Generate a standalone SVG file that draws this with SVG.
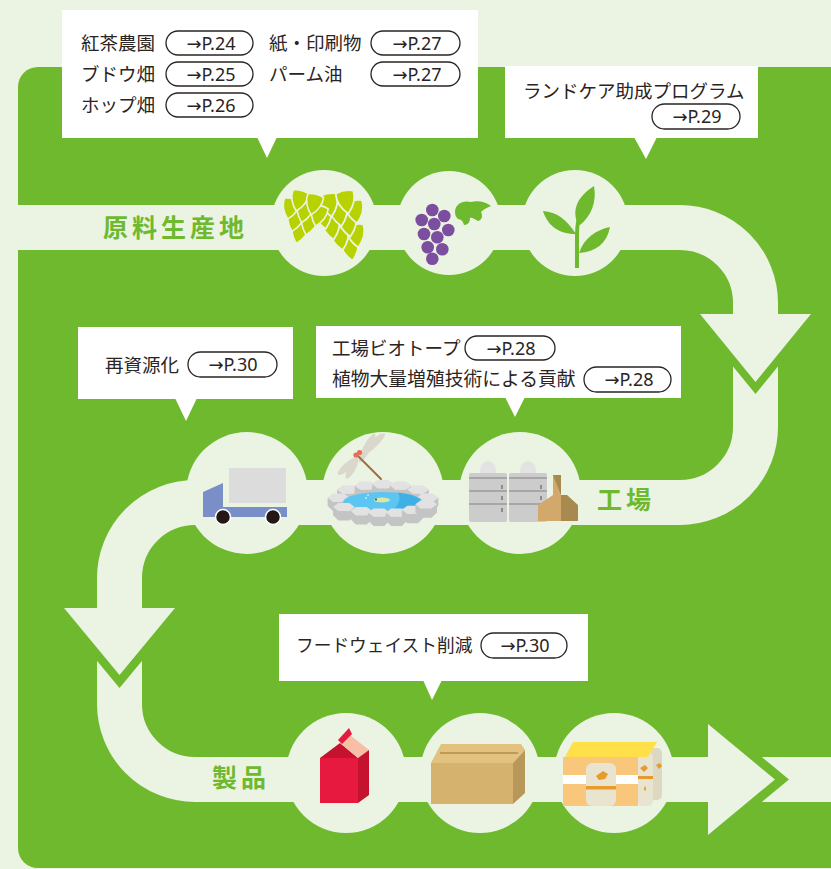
<svg xmlns="http://www.w3.org/2000/svg" width="831" height="869" viewBox="0 0 831 869">
<style>
.bg{fill:#EBF3E3}
.lt{fill:#EBF3E3}
.gr{fill:#6EB92D}
.band{fill:none;stroke:#EBF3E3;stroke-width:45}
.co{fill:#fff}
.t{font-family:"Noto Sans CJK JP","Noto Sans",sans-serif;font-size:18.5px;fill:#2a2422}
.pill{fill:#fff;stroke:#2a2422;stroke-width:1.3}
.pt{font-family:"Noto Sans","Open Sans",sans-serif;font-size:18px;fill:#2a2422;text-anchor:middle}
.ar{font-family:"DejaVu Sans",sans-serif;font-size:18px}
.lab{font-family:"Noto Sans CJK JP",sans-serif;font-weight:700;font-size:25px;fill:#6EB92D;letter-spacing:4px}
.hop{fill:#B7D200;stroke:#EBF3E3;stroke-width:1.8;stroke-linejoin:round}
.grape{fill:#7C4E9F}
.stone-top{fill:#E2E2E2}
.stone-side{fill:#C4C4C4}
</style>
<defs>
  <path id="bract" d="M-9,-9 C-3,-11 3,-11 9,-9 C10,0 6,7 0,13 C-6,7 -10,0 -9,-9 Z"/>
  <g id="stone">
    <polygon class="stone-side" points="-8,-3 -4,0 4,0 8,-3 8,3 4,7 -4,7 -8,3"/>
    <polygon class="stone-top" points="-8,-3 -4,-6 4,-6 8,-3 4,0 -4,0"/>
  </g>
</defs>

<!-- page and green field -->
<rect class="bg" x="0" y="0" width="831" height="869"/>
<rect class="gr" x="18" y="67" width="840" height="801" rx="20"/>

<!-- flow band with arrowheads -->
<g id="connectors">
  <path class="band" d="M0,227.5 H680 A75.5,75.5 0 0 1 755.5,303 V427 A75.5,75.5 0 0 1 680,502.5 H195 A75.5,75.5 0 0 0 119.5,578 V704 A75.5,75.5 0 0 0 195,779.5 H831"/>
  <polygon class="gr" points="700,326 811,326 755.5,394"/>
  <polygon class="lt" points="700,314 811,314 755.5,382"/>
  <polygon class="gr" points="64,621 175,621 119.5,688"/>
  <polygon class="lt" points="64,608 175,608 119.5,675"/>
  <polygon class="gr" points="722,724 722,835 789,779.5"/>
  <polygon class="lt" points="708,724 708,835 775,779.5"/>
</g>

<!-- stage labels -->
<text class="lab" x="103" y="237">原料生産地</text>
<text class="lab" x="597" y="509">工場</text>
<text class="lab" x="212" y="787">製品</text>

<!-- raw materials: hop -->
<g id="hop">
  <circle class="lt" cx="324" cy="223" r="53"/>
  <g transform="translate(342,224) rotate(-10)">
    <use href="#bract" class="hop" x="4" y="25"/>
    <use href="#bract" class="hop" x="-4" y="13"/>
    <use href="#bract" class="hop" x="12" y="13"/>
    <use href="#bract" class="hop" x="-11" y="1"/>
    <use href="#bract" class="hop" x="6" y="1"/>
    <use href="#bract" class="hop" x="-17" y="-11"/>
    <use href="#bract" class="hop" x="-1" y="-11"/>
    <use href="#bract" class="hop" x="15" y="-11"/>
    <use href="#bract" class="hop" x="-9" y="-22"/>
    <use href="#bract" class="hop" x="8" y="-22"/>
  </g>
  <g transform="translate(304,213) rotate(14) scale(0.9)">
    <use href="#bract" class="hop" x="0" y="22"/>
    <use href="#bract" class="hop" x="-8" y="10"/>
    <use href="#bract" class="hop" x="8" y="10"/>
    <use href="#bract" class="hop" x="-16" y="-2"/>
    <use href="#bract" class="hop" x="0" y="-2"/>
    <use href="#bract" class="hop" x="16" y="-2"/>
    <use href="#bract" class="hop" x="-9" y="-13"/>
    <use href="#bract" class="hop" x="8" y="-13"/>
  </g>
</g>

<!-- raw materials: grape -->
<g id="grape">
  <circle class="lt" cx="449" cy="223" r="52"/>
  <path class="gr" d="M455,212 C455,204 463,200 471,202 C478,200 486,202 491,206 C486,208 483,210 481,212 C483,216 482,220 478,221 C474,219 472,217 470,218 C470,222 468,225 464,225 C463,221 461,219 458,219 C456,217 455,215 455,212 Z"/>
  <circle class="grape" cx="421.7" cy="220" r="6.3"/>
  <circle class="grape" cx="432.3" cy="210" r="6.3"/>
  <circle class="grape" cx="444.3" cy="216" r="6.3"/>
  <circle class="grape" cx="434.3" cy="224" r="6.3"/>
  <circle class="grape" cx="448.3" cy="230" r="6.3"/>
  <circle class="grape" cx="424" cy="234" r="6.3"/>
  <circle class="grape" cx="437.3" cy="237.3" r="6.3"/>
  <circle class="grape" cx="427.7" cy="247.3" r="6.3"/>
  <circle class="grape" cx="442.3" cy="249.3" r="6.3"/>
  <circle class="grape" cx="432.3" cy="258.7" r="6.3"/>
</g>

<!-- raw materials: seedling -->
<g id="seedling">
  <circle class="lt" cx="575" cy="223" r="53"/>
  <path class="gr" d="M575,268 L575,235 C575,225 577,215 580,205 L583,206 C580,216 579,226 579,235 L579,268 Z"/>
  <path class="gr" d="M578,224 C571,210 578,196 594,186 C597,202 591,216 580,225 Z"/>
  <path class="gr" d="M576,234 C566,219 557,212 543,211 C548,227 560,234 576,234 Z"/>
  <path class="gr" d="M579,253 C584,238 596,230 610,227 C607,243 596,252 579,253 Z"/>
</g>

<!-- factory row: truck -->
<g id="truck">
  <circle class="lt" cx="247" cy="493" r="61"/>
  <rect x="229" y="468" width="57" height="35" fill="#DCDCDC"/>
  <polygon points="203,492 223,483 223,507 287,507 287,517 203,517" fill="#7A8FC8"/>
  <circle cx="223" cy="517" r="7.5" fill="#231815" stroke="#fff" stroke-width="1.5"/>
  <circle cx="273" cy="517" r="7.5" fill="#231815" stroke="#fff" stroke-width="1.5"/>
</g>

<!-- factory row: biotope pond -->
<g id="biotope">
  <circle class="lt" cx="383" cy="493" r="61"/>
  <g transform="translate(383,503) scale(1.35)">
    <use href="#stone" x="-26" y="-7"/>
    <use href="#stone" x="-13" y="-10"/>
    <use href="#stone" x="0" y="-11"/>
    <use href="#stone" x="13" y="-10"/>
    <use href="#stone" x="26" y="-7"/>
    <use href="#stone" x="-33" y="-1"/>
    <use href="#stone" x="33" y="-1"/>
  </g>
  <ellipse cx="383" cy="502" rx="40" ry="10" fill="#5CC5F2"/>
  <path d="M398,492.5 C412,494 421,498 422,502 C416,508 404,511 390,512 C398,507 402,499 398,492.5 Z" fill="#3FB0E6"/>
  <ellipse cx="382" cy="500" rx="8" ry="2.6" fill="#D9E6A6"/>
  <circle cx="376" cy="499.5" r="0.9" fill="#333"/>
  <circle cx="366" cy="498" r="0.8" fill="#fff"/>
  <circle cx="368" cy="495" r="0.8" fill="#fff"/>
  <g transform="translate(383,503) scale(1.35)">
    <use href="#stone" x="-29" y="6"/>
    <use href="#stone" x="-16" y="9"/>
    <use href="#stone" x="-3" y="10"/>
    <use href="#stone" x="10" y="10"/>
    <use href="#stone" x="22" y="8"/>
    <use href="#stone" x="32" y="4"/>
  </g>
  <!-- dragonfly -->
  <ellipse cx="372" cy="445" rx="17" ry="4" fill="#DAD8CC" transform="rotate(-42 372 445)"/>
  <ellipse cx="367" cy="448" rx="16" ry="3.8" fill="#DAD8CC" transform="rotate(-62 367 448)"/>
  <ellipse cx="348" cy="466" rx="13" ry="3.8" fill="#DAD8CC" transform="rotate(-40 348 466)"/>
  <ellipse cx="352" cy="468" rx="12" ry="3.6" fill="#DAD8CC" transform="rotate(-62 352 468)"/>
  <line x1="358" y1="456" x2="381" y2="479" stroke="#A06E3A" stroke-width="2" stroke-linecap="round"/>
  <circle cx="356" cy="455" r="2.6" fill="#E86C5A"/>
  <circle cx="359.5" cy="452.5" r="2.6" fill="#E86C5A"/>
</g>

<!-- factory row: tanks and brewhouse -->
<g id="factory">
  <circle class="lt" cx="520" cy="493" r="61"/>
  <ellipse cx="488" cy="471" rx="8" ry="10" fill="#E3E3E3"/>
  <ellipse cx="528" cy="471" rx="8" ry="10" fill="#E3E3E3"/>
  <rect x="469" y="473" width="38" height="49" rx="2" fill="#CCCCCC"/>
  <rect x="509" y="473" width="38" height="49" rx="2" fill="#CCCCCC"/>
  <g stroke="#9A9A9A" stroke-width="1.3">
    <line x1="469" y1="478" x2="507" y2="478"/><line x1="509" y1="478" x2="547" y2="478"/>
    <line x1="469" y1="491" x2="507" y2="491"/><line x1="509" y1="491" x2="547" y2="491"/>
    <line x1="469" y1="504" x2="507" y2="504"/><line x1="509" y1="504" x2="547" y2="504"/>
  </g>
  <g fill="#8C8C8C">
    <rect x="501" y="485" width="2" height="4"/><rect x="501" y="496" width="2" height="4"/><rect x="501" y="508" width="2" height="4"/>
    <rect x="540" y="485" width="2" height="4"/><rect x="540" y="496" width="2" height="4"/>
  </g>
  <polygon points="538,505 553,495 553,475 561,475 561,521 538,521" fill="#D2A96B"/>
  <polygon points="553,475 561,475 561,495 567,495 578,505 578,521 561,521 561,495" fill="#A8894F"/>
</g>

<!-- product row: carton -->
<g id="carton">
  <circle class="lt" cx="346" cy="773" r="60"/>
  <polygon points="320,758 340,743 358,758" fill="#C4122F"/>
  <polygon points="340,743 350,735 369,750 358,758" fill="#F7BFA5"/>
  <polygon points="338,740 349,728 352,734 342,744" fill="#E8193F"/>
  <rect x="320" y="758" width="38" height="45" fill="#E8193F"/>
  <polygon points="358,758 369,750 369,795 358,803" fill="#C4122F"/>
</g>

<!-- product row: cardboard box -->
<g id="box">
  <circle class="lt" cx="480" cy="773" r="60"/>
  <polygon points="431,763 441,744 521,744 525,750 513,763" fill="#E3C17F"/>
  <line x1="440" y1="753" x2="518" y2="753" stroke="#BE9A57" stroke-width="2.2"/>
  <rect x="431" y="763" width="82" height="41" fill="#D6B26F"/>
  <polygon points="513,763 525,750 525,793 513,804" fill="#B8975A"/>
</g>

<!-- product row: beer pack -->
<g id="pack">
  <circle class="lt" cx="614" cy="773" r="60"/>
  <rect x="648" y="748" width="14" height="52" rx="5" fill="#DCD8C2"/>
  <rect x="637" y="752" width="16" height="54" rx="5" fill="#E8E4CF"/>
  <path d="M640,768 l5,-3 l3,3 l-4,4 z M656,765 l4,-2 l2,3 l-3,3 z" fill="#E89B2A"/>
  <rect x="637" y="776" width="16" height="3" fill="#E89B2A"/>
  <path d="M645,786 q2,3 0,5 q-2,-2 0,-5 z" fill="#E89B2A"/>
  <polygon points="565,757 573,742 657,742 648,757" fill="#FFE04B"/>
  <rect x="563" y="757" width="75" height="49" fill="#F9C77B"/>
  <rect x="563" y="775" width="75" height="9" fill="#fff"/>
  <rect x="586" y="763" width="30" height="43" rx="6" fill="#E8E4CF"/>
  <path d="M596,776 l7,-5 l5,3 l-3,5 l-6,1 z" fill="#E89B2A"/>
  <rect x="586" y="786" width="30" height="3.5" fill="#E89B2A"/>
</g>

<!-- callouts -->
<g id="callout-raw">
  <rect class="co" x="62" y="10" width="416" height="128"/>
  <polygon class="co" points="257,137 277,137 267,158"/>
  <text class="t" x="81" y="49.5">紅茶農園</text>
  <rect class="pill" x="166" y="31" width="87" height="24" rx="12"/>
  <text class="pt" x="211" y="49.5"><tspan class="ar">→</tspan>P.24</text>
  <text class="t" x="269" y="49.5">紙・印刷物</text>
  <rect class="pill" x="371" y="31" width="89" height="24" rx="12"/>
  <text class="pt" x="417" y="49.5"><tspan class="ar">→</tspan>P.27</text>
  <text class="t" x="81" y="80.5">ブドウ畑</text>
  <rect class="pill" x="166" y="62" width="87" height="24" rx="12"/>
  <text class="pt" x="211" y="80.5"><tspan class="ar">→</tspan>P.25</text>
  <text class="t" x="269" y="80.5">パーム油</text>
  <rect class="pill" x="371" y="62" width="89" height="24" rx="12"/>
  <text class="pt" x="417" y="80.5"><tspan class="ar">→</tspan>P.27</text>
  <text class="t" x="81" y="111.5">ホップ畑</text>
  <rect class="pill" x="166" y="93" width="87" height="24" rx="12"/>
  <text class="pt" x="211" y="111.5"><tspan class="ar">→</tspan>P.26</text>
</g>

<g id="callout-landcare">
  <rect class="co" x="505" y="66" width="253" height="72"/>
  <polygon class="co" points="634,137 657,137 646,159"/>
  <text class="t" x="523" y="97.5">ランドケア助成プログラム</text>
  <rect class="pill" x="652" y="104" width="88" height="25" rx="12.5"/>
  <text class="pt" x="697" y="123"><tspan class="ar">→</tspan>P.29</text>
</g>

<g id="callout-recycle">
  <rect class="co" x="78" y="327" width="215" height="72"/>
  <polygon class="co" points="175,398 197,398 186,421"/>
  <text class="t" x="105" y="371.5">再資源化</text>
  <rect class="pill" x="188" y="352" width="89" height="25" rx="12.5"/>
  <text class="pt" x="233" y="371"><tspan class="ar">→</tspan>P.30</text>
</g>

<g id="callout-biotope">
  <rect class="co" x="316" y="326" width="365" height="72"/>
  <polygon class="co" points="505,397 525,397 515,417"/>
  <text class="t" x="332" y="354.5">工場ビオトープ</text>
  <rect class="pill" x="465" y="336" width="90" height="24" rx="12"/>
  <text class="pt" x="511" y="354.5"><tspan class="ar">→</tspan>P.28</text>
  <text class="t" x="332" y="385.5" style="font-size:18.8px">植物大量増殖技術による貢献</text>
  <rect class="pill" x="584" y="367" width="87" height="25" rx="12.5"/>
  <text class="pt" x="629" y="386"><tspan class="ar">→</tspan>P.28</text>
</g>

<g id="callout-foodwaste">
  <rect class="co" x="279" y="614" width="309" height="67"/>
  <polygon class="co" points="423,680 442,680 432,700"/>
  <text class="t" x="296" y="651.5" style="font-size:17.7px">フードウェイスト削減</text>
  <rect class="pill" x="481" y="633" width="86" height="25" rx="12.5"/>
  <text class="pt" x="525" y="652"><tspan class="ar">→</tspan>P.30</text>
</g>
</svg>
